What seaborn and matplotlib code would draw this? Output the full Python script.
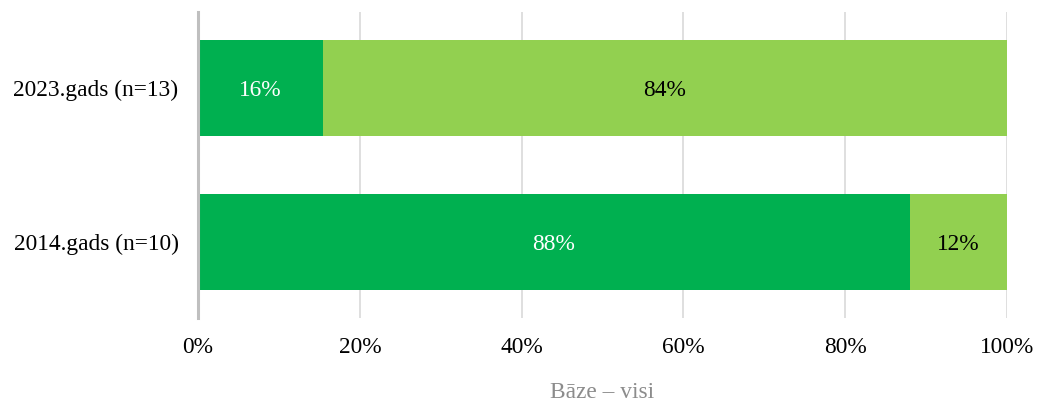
import matplotlib
matplotlib.use("Agg")
import matplotlib.pyplot as plt
import seaborn as sns
import pandas as pd
from matplotlib.ticker import FuncFormatter

categories = ["2023.gads (n=13)", "2014.gads (n=10)"]
dark_values = [15.4, 88.0]
light_values = [84.6, 12.0]
dark_labels = ["16%", "88%"]
light_labels = ["84%", "12%"]
xticks = [0, 20, 40, 60, 80, 100]
xlabel_text = "Bāze – visi"

sns.set_theme(style="white")
plt.rcParams["font.family"] = ["Liberation Serif", "DejaVu Serif"]

DARK = "#00B050"
LIGHT = "#92D050"
FS = 16.8

df = pd.DataFrame({
    "cat": categories,
    "dark": dark_values,
    "total": [d + l for d, l in zip(dark_values, light_values)],
})

fig = plt.figure(figsize=(10.4, 4.03), dpi=100)
ax = fig.add_axes([0.1904, 0.2109, 0.7779, 0.7593])

sns.barplot(data=df, x="total", y="cat", orient="h", color=LIGHT,
            width=0.623, ax=ax, saturation=1, edgecolor="none")
sns.barplot(data=df, x="dark", y="cat", orient="h", color=DARK,
            width=0.623, ax=ax, saturation=1, edgecolor="none")

for i in range(len(categories)):
    d = dark_values[i]
    l = light_values[i]
    ax.text(d / 2, i, dark_labels[i], ha="center", va="center_baseline",
            color="white", fontsize=FS)
    ax.text(d + l / 2, i, light_labels[i], ha="center", va="center_baseline",
            color="black", fontsize=FS)

ax.set_xlim(0, 100)
ax.set_ylim(1.494, -0.494)
ax.set_xticks(xticks)
ax.xaxis.set_major_formatter(FuncFormatter(lambda v, p: f"{int(v)}%"))
ax.tick_params(axis="both", length=0, labelsize=FS, colors="black")
ax.tick_params(axis="x", pad=14)
ax.tick_params(axis="y", pad=14)
ax.set_ylabel("")
ax.set_xlabel(xlabel_text, color="#8C8C8C", fontsize=FS, labelpad=17)

ax.grid(axis="x", color="#D9D9D9", linewidth=1.2)
ax.set_axisbelow(True)
for s in ["top", "right", "bottom"]:
    ax.spines[s].set_visible(False)
ax.spines["left"].set_color("#BFBFBF")
ax.spines["left"].set_linewidth(2.2)

fig.savefig("out.png", dpi=100)
